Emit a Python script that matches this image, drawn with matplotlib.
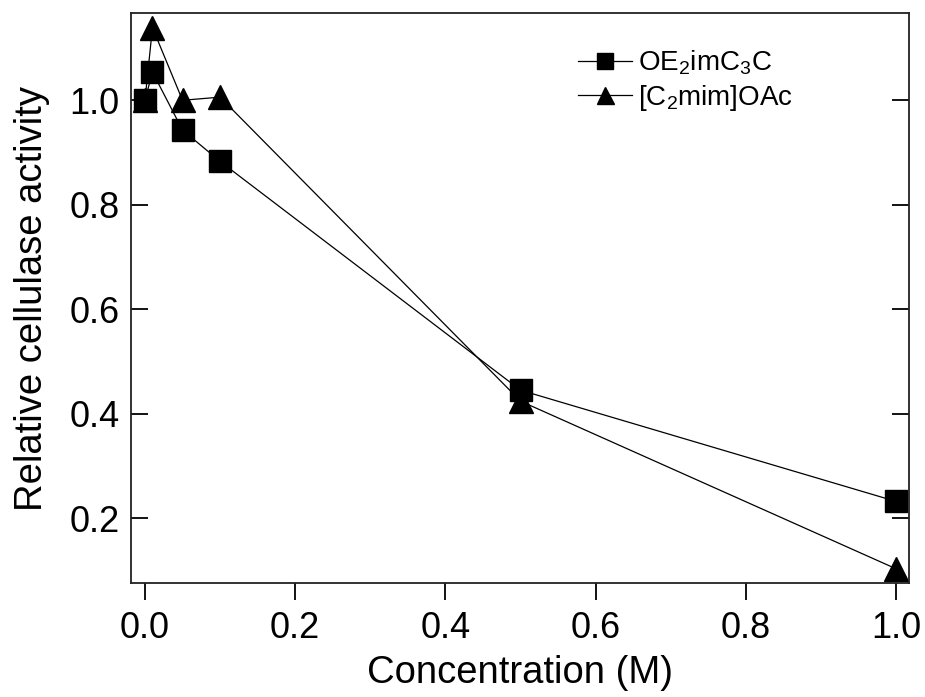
import numpy as np
import matplotlib
matplotlib.use("Agg")
import matplotlib.pyplot as plt

plt.rcParams['font.family'] = ['Liberation Sans', 'DejaVu Sans']
plt.rcParams['mathtext.fontset'] = 'custom'
plt.rcParams['mathtext.rm'] = 'Liberation Sans'
plt.rcParams['mathtext.it'] = 'Liberation Sans'

# data
conc = [0.0, 0.01, 0.05, 0.1, 0.5, 1.0]
oe2imc3c = [1.0, 1.054, 0.943, 0.883, 0.445, 0.232]
c2mim_oac = [1.0, 1.139, 1.0, 1.006, 0.424, 0.103]

fig = plt.figure(figsize=(9.25, 6.97), dpi=100)
ax = fig.add_axes([0.1416, 0.1636, 0.8411, 0.8177])

ax.plot(conc, oe2imc3c, color='black', lw=0.9, marker='s', ms=15.5,
        label=r'OE$_2$imC$_3$C')
ax.plot(conc, c2mim_oac, color='black', lw=0.9, marker='^', ms=17,
        label=r'[C$_2$mim]OAc')

ax.set_xlim(-0.0186, 1.017)
ax.set_ylim(0.076, 1.167)
ax.set_xticks([0.0, 0.2, 0.4, 0.6, 0.8, 1.0])
ax.set_yticks([0.2, 0.4, 0.6, 0.8, 1.0])
ax.xaxis.set_major_formatter(matplotlib.ticker.FormatStrFormatter('%.1f'))
ax.yaxis.set_major_formatter(matplotlib.ticker.FormatStrFormatter('%.1f'))

ax.tick_params(axis='x', direction='out', length=12, width=1.3, labelsize=26, pad=8)
ax.tick_params(axis='y', direction='in', length=12, width=1.3, labelsize=26, pad=8,
               right=True)
for s in ax.spines.values():
    s.set_linewidth(1.3)
    s.set_color('#222222')

ax.set_xlabel('Concentration (M)', fontsize=27.5, labelpad=7)
ax.set_ylabel('Relative cellulase activity', fontsize=27.5, labelpad=14)

leg = ax.legend(loc='upper left', bbox_to_anchor=(0.5746, 0.938), frameon=False,
                fontsize=20, handlelength=1.95, handletextpad=0.22,
                borderpad=0, borderaxespad=0, labelspacing=0.22,
                markerscale=0.72)

fig.savefig('out.png', dpi=100)
